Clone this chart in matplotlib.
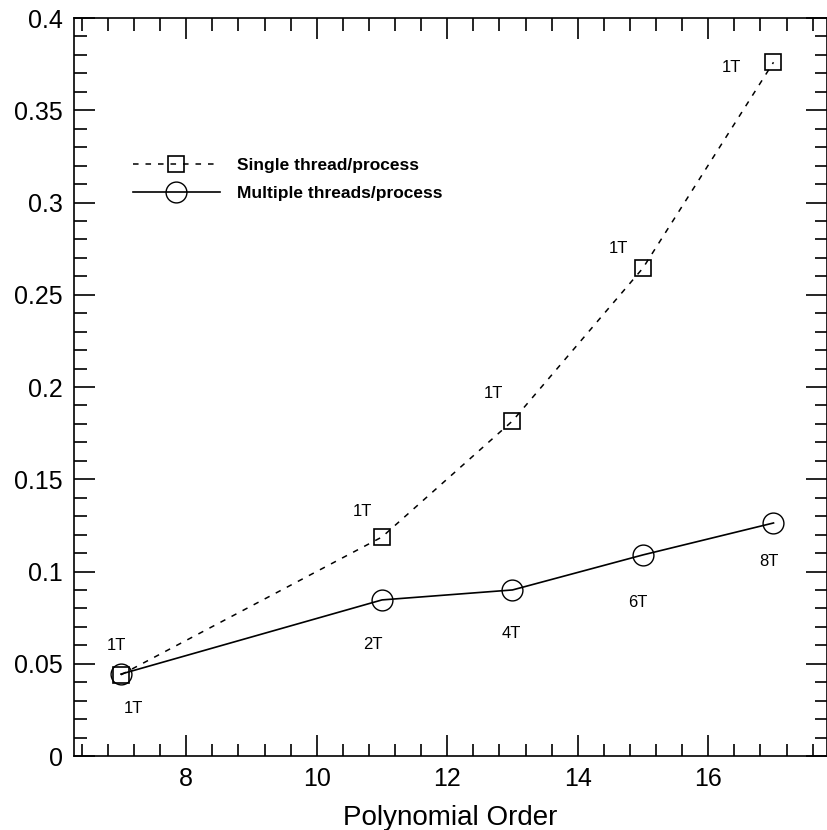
import numpy as np
import matplotlib
matplotlib.use("Agg")
from matplotlib import pyplot as plt
from matplotlib.ticker import MultipleLocator

plt.rcParams['font.family'] = ['Liberation Sans', 'DejaVu Sans']
plt.rcParams['lines.scale_dashes'] = False

# polynomial order vs. time
order = [7, 11, 13, 15, 17]
single_time = [0.044, 0.1187, 0.1816, 0.2645, 0.376]
multi_time = [0.0444, 0.0846, 0.090, 0.109, 0.1263]
single_threads = ['1T', '1T', '1T', '1T', '1T']
multi_threads = ['1T', '2T', '4T', '6T', '8T']

# label offsets (points) for each point
single_offsets = [(-3, 21), (-14, 18), (-14, 20), (-18, 14), (-30, -4)]
multi_offsets = [(9, -24.5), (-6.5, -32), (-1, -31), (-3.6, -34.5), (-3.6, -28)]

fig = plt.figure(figsize=(8.28, 8.30), dpi=100)
W, H = 828, 830
ax = fig.add_axes([74 / W, 1 - 756 / H, (827 - 74) / W, (756 - 18) / H])

ax.plot(order, single_time, color='black', lw=1.1, dashes=(4, 5),
        marker='s', ms=12, mfc='none', mec='black', mew=1.2,
        label='Single thread/process')
ax.plot(order, multi_time, color='black', lw=1.2, ls='-',
        marker='o', ms=15, mfc='none', mec='black', mew=1.0,
        label='Multiple threads/process')

for x, y, s, off in zip(order, single_time, single_threads, single_offsets):
    ax.annotate(s, (x, y), xytext=off, textcoords='offset points',
                ha='center', va='center', fontsize=12)
for x, y, s, off in zip(order, multi_time, multi_threads, multi_offsets):
    ax.annotate(s, (x, y), xytext=off, textcoords='offset points',
                ha='center', va='center', fontsize=12)

ax.set_xlim(6.28, 17.82)
ax.set_ylim(0, 0.4)
ax.xaxis.set_major_locator(MultipleLocator(2))
ax.xaxis.set_minor_locator(MultipleLocator(0.4))
ax.yaxis.set_minor_locator(MultipleLocator(0.01))
ax.set_yticks([0, 0.05, 0.1, 0.15, 0.2, 0.25, 0.3, 0.35, 0.4])
ax.set_yticklabels(['0', '0.05', '0.1', '0.15', '0.2', '0.25', '0.3', '0.35', '0.4'])

ax.tick_params(which='both', direction='in', top=True, right=True,
               width=1.2, labelsize=18)
ax.tick_params(which='major', length=15, pad=8)
ax.tick_params(which='minor', length=9)
for sp in ax.spines.values():
    sp.set_linewidth(1.2)

ax.set_xlabel('Polynomial Order', fontsize=20, labelpad=10)

leg = ax.legend(loc='upper left', bbox_to_anchor=(133 / W, 1 - 158 / H),
                bbox_transform=fig.transFigure, frameon=False, numpoints=1,
                handlelength=5.0, handletextpad=1.0, borderpad=0,
                borderaxespad=0, labelspacing=0.75,
                prop={'weight': 'bold', 'size': 12.5})

fig.savefig('out.png', dpi=100)
